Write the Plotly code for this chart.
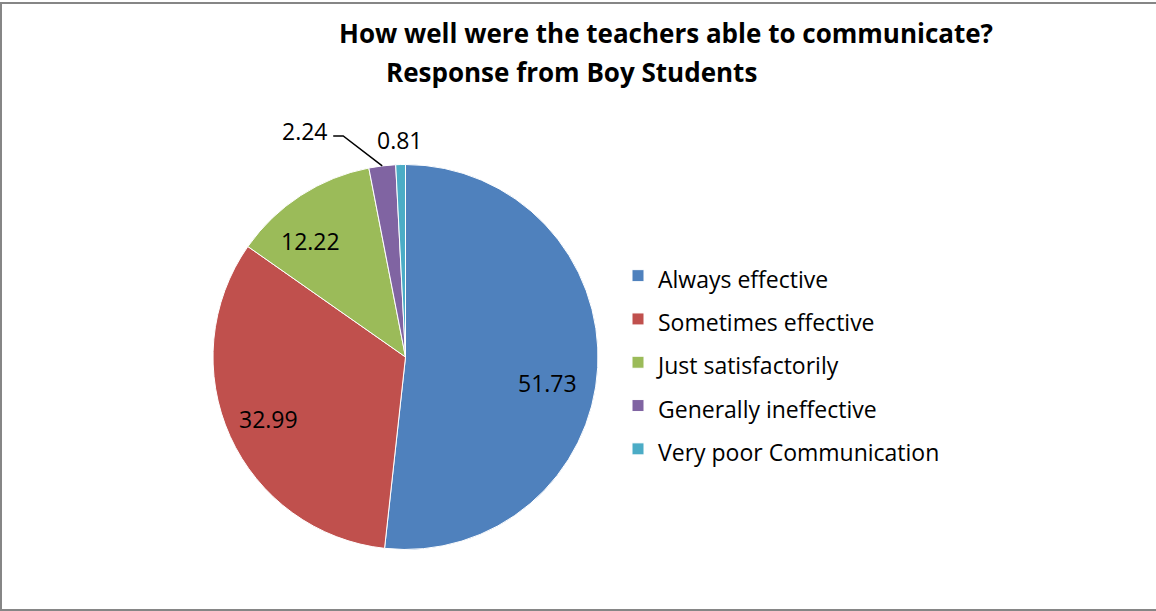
import math
import plotly.graph_objects as go

W, H = 1156, 611

categories = ['Always effective', 'Sometimes effective', 'Just satisfactorily',
              'Generally ineffective', 'Very poor Communication']
values = [51.73, 32.99, 12.22, 2.24, 0.81]
value_labels = ['51.73', '32.99', '12.22', '2.24', '0.81']
colors = ['#4F81BD', '#C0504D', '#9BBB59', '#8064A2', '#4BACC6']

FONT = 'Open Sans'
TEXT_SIZE = 23
TITLE_SIZE = 26
DEFAULT_CONFIG = {'displayModeBar': False}
JAVASCRIPT = 'document.body.style.margin = "0";'

# pie geometry in pixels
CX, CY, R = 405.5, 357, 192.5


def px(x):
    return x / W


def py(y):
    return 1 - y / H


def slice_point(i, frac, shift=0.0):
    total = sum(values)
    mid = (sum(values[:i]) + values[i] / 2) / total
    t = 2 * math.pi * mid + math.radians(shift)
    return CX + frac * R * math.sin(t), CY - frac * R * math.cos(t)


def label(x, y, text, size=TEXT_SIZE, xanchor='center'):
    return dict(x=px(x), y=py(y), xref='paper', yref='paper', text=text,
                xanchor=xanchor, yanchor='middle', showarrow=False,
                font=dict(size=size, color='black'))


fig = go.Figure()

fig.add_trace(go.Pie(
    labels=[f'<span style="font-size:{TEXT_SIZE}px">{c}</span>' for c in categories],
    values=values,
    sort=False,
    direction='clockwise',
    rotation=0,
    textinfo='none',
    hoverinfo='label+value',
    marker=dict(colors=colors, line=dict(color='white', width=1)),
    domain=dict(x=[px(CX - R), px(CX + R)], y=[py(CY + R), py(CY - R)]),
))

annotations = []
# radial position (fraction of radius) and angular nudge (degrees) of each value label
label_frac = [0.75, 0.78, 0.78, None, 1.13]
label_shift = [7.3, 0, -6.5, 0, 0]
for i, lab in enumerate(value_labels):
    if label_frac[i] is None:
        continue
    x, y = slice_point(i, label_frac[i], label_shift[i])
    annotations.append(label(x, y, lab))

# leader line label for the small purple slice
ex, ey = slice_point(3, 1.0)
kx, ky = ex - 39, ey - 30
lx = kx - 10
fig.add_shape(type='path', xref='paper', yref='paper',
              path=f'M {px(ex)} {py(ey)} L {px(kx)} {py(ky)} L {px(lx)} {py(ky)}',
              line=dict(color='black', width=1.5))
annotations.append(label(lx - 3, ky - 5, value_labels[3], xanchor='right'))

annotations.append(label(666, 33, '<b>How well were the teachers able to communicate?</b>', size=TITLE_SIZE))
annotations.append(label(571, 72, '<b>Response from Boy Students</b>', size=TITLE_SIZE))

fig.add_shape(type='rect', xref='paper', yref='paper',
              x0=px(1), y0=py(610), x1=px(1165), y1=py(3),
              line=dict(color='#868686', width=2))

fig.update_layout(
    width=W, height=H,
    margin=dict(l=0, r=0, t=0, b=0),
    paper_bgcolor='white',
    plot_bgcolor='white',
    font=dict(family=FONT, color='black'),
    annotations=annotations,
    showlegend=True,
    legend=dict(x=px(618), y=py(249), xanchor='left', yanchor='top',
                font=dict(size=31, color='black'), bgcolor='rgba(0,0,0,0)'),
)

fig.write_html('out.html', config=DEFAULT_CONFIG, post_script=[JAVASCRIPT])
